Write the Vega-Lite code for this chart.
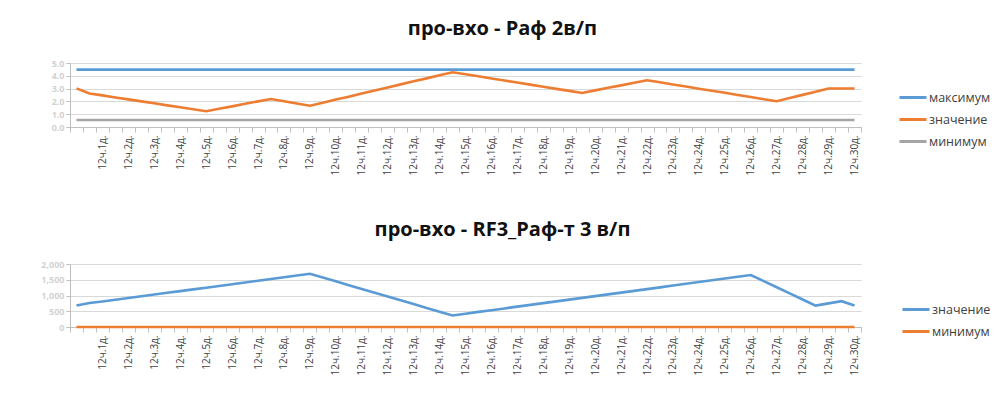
{
  "$schema": "https://vega.github.io/schema/vega-lite/v6.json",
  "background": "white",
  "padding": {"left": 30, "top": 18, "right": 0, "bottom": 0},
  "spacing": 32,
  "config": {
    "view": {"stroke": null},
    "font": "Open Sans",
    "axisX": {
      "title": null, "labelAngle": -90, "tickBand": "extent", "grid": false,
      "labelFont": "Open Sans", "labelFontSize": 10, "labelColor": "#404040",
      "tickColor": "#bfbfbf", "domainColor": "#bfbfbf", "tickSize": 5, "labelPadding": 3,
      "labelOverlap": false, "labelBound": false, "minExtent": 60, "maxExtent": 60,
      "labelExpr": "datum.value > 0 && datum.value % 2 == 0 ? '12ч.' + (datum.value / 2) + 'д.' : ''"
    },
    "axisY": {
      "title": null, "grid": true, "gridColor": "#d9d9d9", "domainColor": "#bfbfbf",
      "tickColor": "#bfbfbf", "tickSize": 4, "labelColor": "#d2d2d2", "labelFontWeight": "bold",
      "labelFontSize": 9, "minExtent": 40, "maxExtent": 40
    },
    "legend": {
      "symbolType": "stroke", "symbolSize": 729, "symbolStrokeWidth": 3, "labelOffset": 1,
      "labelFont": "Open Sans", "labelFontSize": 12.5, "labelColor": "#404040", "title": null
    },
    "title": {"font": "Open Sans", "fontSize": 20, "fontWeight": "bold", "color": "#111111", "offset": 20.5, "anchor": "middle", "dx": 37}
  },
  "resolve": {"scale": {"color": "independent", "x": "independent", "y": "independent"}, "legend": {"color": "independent"}},
  "vconcat": [
    {
      "title": "про-вхо - Раф 2в/п",
      "width": 791,
      "height": 64,
      "data": {"values": [
        {"k":0,"максимум":4.48,"значение":3.02,"минимум":0.55},
        {"k":1,"максимум":4.48,"значение":2.62,"минимум":0.55},
        {"k":2,"максимум":4.48,"значение":2.47,"минимум":0.55},
        {"k":3,"максимум":4.48,"значение":2.31,"минимум":0.55},
        {"k":4,"максимум":4.48,"значение":2.16,"минимум":0.55},
        {"k":5,"максимум":4.48,"значение":2.00,"минимум":0.55},
        {"k":6,"максимум":4.48,"значение":1.85,"минимум":0.55},
        {"k":7,"максимум":4.48,"значение":1.69,"минимум":0.55},
        {"k":8,"максимум":4.48,"значение":1.54,"минимум":0.55},
        {"k":9,"максимум":4.48,"значение":1.38,"минимум":0.55},
        {"k":10,"максимум":4.48,"значение":1.23,"минимум":0.55},
        {"k":11,"максимум":4.48,"значение":1.42,"минимум":0.55},
        {"k":12,"максимум":4.48,"значение":1.61,"минимум":0.55},
        {"k":13,"максимум":4.48,"значение":1.81,"минимум":0.55},
        {"k":14,"максимум":4.48,"значение":2.00,"минимум":0.55},
        {"k":15,"максимум":4.48,"значение":2.19,"минимум":0.55},
        {"k":16,"максимум":4.48,"значение":2.01,"минимум":0.55},
        {"k":17,"максимум":4.48,"значение":1.84,"минимум":0.55},
        {"k":18,"максимум":4.48,"значение":1.66,"минимум":0.55},
        {"k":19,"максимум":4.48,"значение":1.90,"минимум":0.55},
        {"k":20,"максимум":4.48,"значение":2.14,"минимум":0.55},
        {"k":21,"максимум":4.48,"значение":2.37,"минимум":0.55},
        {"k":22,"максимум":4.48,"значение":2.61,"минимум":0.55},
        {"k":23,"максимум":4.48,"значение":2.85,"минимум":0.55},
        {"k":24,"максимум":4.48,"значение":3.09,"минимум":0.55},
        {"k":25,"максимум":4.48,"значение":3.33,"минимум":0.55},
        {"k":26,"максимум":4.48,"значение":3.57,"минимум":0.55},
        {"k":27,"максимум":4.48,"значение":3.80,"минимум":0.55},
        {"k":28,"максимум":4.48,"значение":4.04,"минимум":0.55},
        {"k":29,"максимум":4.48,"значение":4.28,"минимум":0.55},
        {"k":30,"максимум":4.48,"значение":4.12,"минимум":0.55},
        {"k":31,"максимум":4.48,"значение":3.96,"минимум":0.55},
        {"k":32,"максимум":4.48,"значение":3.79,"минимум":0.55},
        {"k":33,"максимум":4.48,"значение":3.63,"минимум":0.55},
        {"k":34,"максимум":4.48,"значение":3.47,"минимум":0.55},
        {"k":35,"максимум":4.48,"значение":3.31,"минимум":0.55},
        {"k":36,"максимум":4.48,"значение":3.15,"минимум":0.55},
        {"k":37,"максимум":4.48,"значение":2.98,"минимум":0.55},
        {"k":38,"максимум":4.48,"значение":2.82,"минимум":0.55},
        {"k":39,"максимум":4.48,"значение":2.66,"минимум":0.55},
        {"k":40,"максимум":4.48,"значение":2.86,"минимум":0.55},
        {"k":41,"максимум":4.48,"значение":3.06,"минимум":0.55},
        {"k":42,"максимум":4.48,"значение":3.25,"минимум":0.55},
        {"k":43,"максимум":4.48,"значение":3.45,"минимум":0.55},
        {"k":44,"максимум":4.48,"значение":3.65,"минимум":0.55},
        {"k":45,"максимум":4.48,"значение":3.49,"минимум":0.55},
        {"k":46,"максимум":4.48,"значение":3.32,"минимум":0.55},
        {"k":47,"максимум":4.48,"значение":3.16,"минимум":0.55},
        {"k":48,"максимум":4.48,"значение":2.99,"минимум":0.55},
        {"k":49,"максимум":4.48,"значение":2.83,"минимум":0.55},
        {"k":50,"максимум":4.48,"значение":2.67,"минимум":0.55},
        {"k":51,"максимум":4.48,"значение":2.50,"минимум":0.55},
        {"k":52,"максимум":4.48,"значение":2.34,"минимум":0.55},
        {"k":53,"максимум":4.48,"значение":2.17,"минимум":0.55},
        {"k":54,"максимум":4.48,"значение":2.01,"минимум":0.55},
        {"k":55,"максимум":4.48,"значение":2.26,"минимум":0.55},
        {"k":56,"максимум":4.48,"значение":2.51,"минимум":0.55},
        {"k":57,"максимум":4.48,"значение":2.76,"минимум":0.55},
        {"k":58,"максимум":4.48,"значение":3.01,"минимум":0.55},
        {"k":59,"максимум":4.48,"значение":3.01,"минимум":0.55},
        {"k":60,"максимум":4.48,"значение":3.01,"минимум":0.55}
      ]},
      "transform": [{"fold": ["максимум", "значение", "минимум"], "as": ["series", "v"]}],
      "mark": {"type": "line", "strokeWidth": 2.6},
      "encoding": {
        "x": {"field": "k", "type": "ordinal", "scale": {"type": "band", "paddingInner": 0, "paddingOuter": 0}},
        "y": {"field": "v", "type": "quantitative", "scale": {"domain": [0, 5], "nice": false}, "axis": {"values": [0, 1, 2, 3, 4, 5], "format": ".1f"}},
        "color": {
          "field": "series", "type": "nominal",
          "scale": {"domain": ["максимум", "значение", "минимум"], "range": ["#5B9BD5", "#ED7D31", "#A5A5A5"]},
          "legend": {"orient": "none", "legendX": 828, "legendY": 19.5, "rowPadding": 0}
        }
      }
    },
    {
      "title": "про-вхо - RF3_Раф-т 3 в/п",
      "width": 791,
      "height": 63,
      "data": {"values": [
        {"k":0,"значение":680,"минимум":0},
        {"k":1,"значение":760,"минимум":0},
        {"k":2,"значение":810,"минимум":0},
        {"k":3,"значение":865,"минимум":0},
        {"k":4,"значение":920,"минимум":0},
        {"k":5,"значение":975,"минимум":0},
        {"k":6,"значение":1030,"минимум":0},
        {"k":7,"значение":1085,"минимум":0},
        {"k":8,"значение":1140,"минимум":0},
        {"k":9,"значение":1195,"минимум":0},
        {"k":10,"значение":1245,"минимум":0},
        {"k":11,"значение":1300,"минимум":0},
        {"k":12,"значение":1355,"минимум":0},
        {"k":13,"значение":1410,"минимум":0},
        {"k":14,"значение":1470,"минимум":0},
        {"k":15,"значение":1525,"минимум":0},
        {"k":16,"значение":1580,"минимум":0},
        {"k":17,"значение":1635,"минимум":0},
        {"k":18,"значение":1690,"минимум":0},
        {"k":19,"значение":1570,"минимум":0},
        {"k":20,"значение":1449,"минимум":0},
        {"k":21,"значение":1329,"минимум":0},
        {"k":22,"значение":1209,"минимум":0},
        {"k":23,"значение":1088,"минимум":0},
        {"k":24,"значение":968,"минимум":0},
        {"k":25,"значение":848,"минимум":0},
        {"k":26,"значение":728,"минимум":0},
        {"k":27,"значение":607,"минимум":0},
        {"k":28,"значение":487,"минимум":0},
        {"k":29,"значение":367,"минимум":0},
        {"k":30,"значение":423,"минимум":0},
        {"k":31,"значение":479,"минимум":0},
        {"k":32,"значение":534,"минимум":0},
        {"k":33,"значение":590,"минимум":0},
        {"k":34,"значение":646,"минимум":0},
        {"k":35,"значение":702,"минимум":0},
        {"k":36,"значение":757,"минимум":0},
        {"k":37,"значение":813,"минимум":0},
        {"k":38,"значение":869,"минимум":0},
        {"k":39,"значение":925,"минимум":0},
        {"k":40,"значение":980,"минимум":0},
        {"k":41,"значение":1036,"минимум":0},
        {"k":42,"значение":1092,"минимум":0},
        {"k":43,"значение":1148,"минимум":0},
        {"k":44,"значение":1203,"минимум":0},
        {"k":45,"значение":1259,"минимум":0},
        {"k":46,"значение":1315,"минимум":0},
        {"k":47,"значение":1371,"минимум":0},
        {"k":48,"значение":1426,"минимум":0},
        {"k":49,"значение":1482,"минимум":0},
        {"k":50,"значение":1538,"минимум":0},
        {"k":51,"значение":1594,"минимум":0},
        {"k":52,"значение":1649,"минимум":0},
        {"k":53,"значение":1455,"минимум":0},
        {"k":54,"значение":1261,"минимум":0},
        {"k":55,"значение":1068,"минимум":0},
        {"k":56,"значение":874,"минимум":0},
        {"k":57,"значение":680,"минимум":0},
        {"k":58,"значение":750,"минимум":0},
        {"k":59,"значение":820,"минимум":0},
        {"k":60,"значение":680,"минимум":0}
      ]},
      "transform": [{"fold": ["значение", "минимум"], "as": ["series", "v"]}],
      "mark": {"type": "line", "strokeWidth": 2.6},
      "encoding": {
        "x": {"field": "k", "type": "ordinal", "scale": {"type": "band", "paddingInner": 0, "paddingOuter": 0}},
        "y": {"field": "v", "type": "quantitative", "scale": {"domain": [0, 2000], "nice": false}, "axis": {"values": [0, 500, 1000, 1500, 2000]}},
        "color": {
          "field": "series", "type": "nominal",
          "scale": {"domain": ["значение", "минимум"], "range": ["#5B9BD5", "#ED7D31"]},
          "legend": {"orient": "none", "legendX": 831, "legendY": 30.5, "rowPadding": -9}
        }
      }
    }
  ]
}
